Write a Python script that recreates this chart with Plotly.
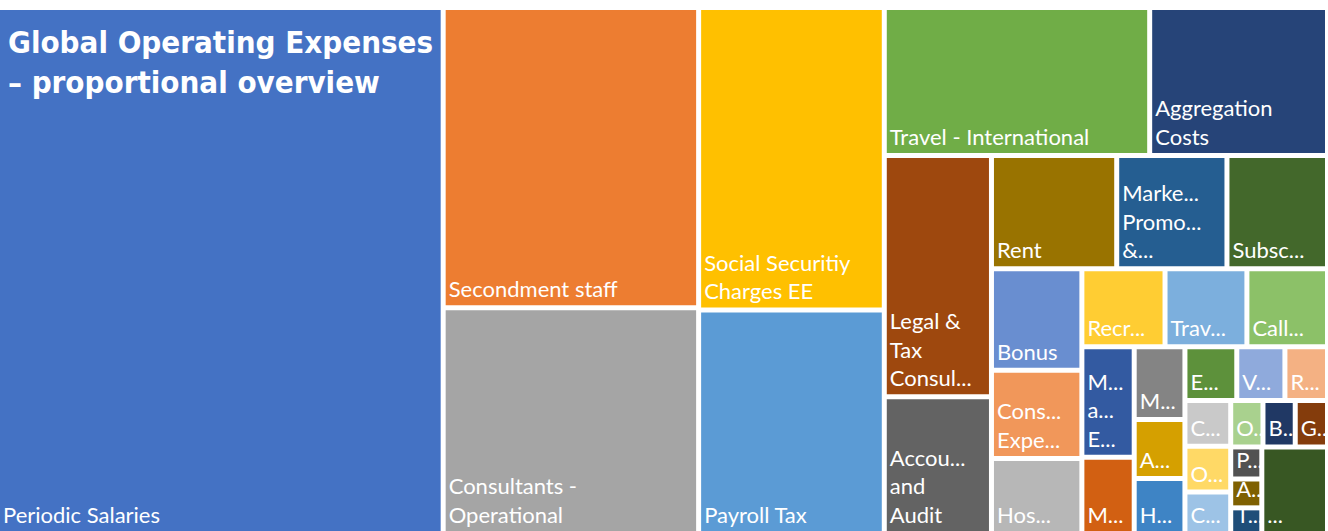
import plotly.graph_objects as go

# ---- data -------------------------------------------------------------
# Expense categories (unique ids) and the label text shown inside each tile
names = [
    "Periodic Salaries", "Secondment staff", "Consultants - Operational",
    "Social Securitiy Charges EE", "Payroll Tax", "Travel - International",
    "Aggregation Costs", "Legal & Tax Consul...", "Accounting and Audit", "Rent",
    "Marke... Promo... &...", "Subsc...", "Bonus", "Cons... Expe...", "Hos...",
    "Recr...", "Trav...", "Call...", "M... a... E...", "M... (1)", "M... (2)",
    "A... (1)", "H...", "E...", "V...", "R...", "C... (1)", "O... (1)", "C... (2)",
    "O... (2)", "B...", "G...", "P...", "A... (2)", "T...", "...",
]
display = [
    "Periodic Salaries", "Secondment staff", "Consultants -<br>Operational",
    "Social Securitiy<br>Charges EE", "Payroll Tax", "Travel - International",
    "Aggregation<br>Costs", "Legal &<br>Tax<br>Consul...", "Accou...<br>and<br>Audit", "Rent",
    "Marke...<br>Promo...<br>&...", "Subsc...", "Bonus", "Cons...<br>Expe...", "Hos...",
    "Recr...", "Trav...", "Call...", "M...<br>a...<br>E...", "M...", "M...",
    "A...", "H...", "E...", "V...", "R...", "C...", "O...", "C...",
    "O...", "B...", "G...", "P...", "A...", "T...", "...",
]
# relative size of each expense (estimated from tile areas)
values = [
    2350, 769, 578, 563, 416, 394, 264, 259, 147, 142, 125, 114, 92, 80, 68,
    65, 64, 63, 58, 40, 37, 30, 28, 28, 26, 23, 21, 21, 19, 15, 15, 15, 10, 9, 8, 57,
]
# layout grouping used by the treemap (Excel-style strips), "" = top level
groups = [
    "", "", "", "", "", "g1",
    "g1", "g2", "g2", "g3",
    "g3", "g3", "g4", "g4", "g4",
    "g5", "g5", "g5", "g6", "g6", "g7",
    "g7", "g7", "g8", "g8", "g8", "g8", "g8", "g8",
    "g8", "g8", "g8", "g8", "g8", "g8", "g8",
]
group_ids = ["g1", "g2", "g3", "g4", "g5", "g6", "g7", "g8"]
group_parents = ["", "g1", "g2", "g3", "g4", "g5", "g6", "g7"]

colors = [
    "#4472C4", "#ED7D31", "#A5A5A5", "#FFC000", "#5B9BD5", "#70AD47",
    "#264478", "#9E480E", "#636363", "#997300", "#255E91", "#43682B",
    "#698ED0", "#F1975A", "#B7B7B7", "#FFCD33", "#7CAFDD", "#8CC168",
    "#335AA1", "#D26012", "#848484", "#D5A000", "#3E84C5", "#5D913B",
    "#8FAADC", "#F4B183", "#C9C9C9", "#FFD966", "#9DC3E6", "#A9D18E",
    "#203864", "#843C0C", "#525252", "#7F6000", "#1F4E79", "#385723",
]

# ---- figure -----------------------------------------------------------
ids = names + group_ids
parents = groups + group_parents
vals = values + [0] * len(group_ids)
texts = display + [""] * len(group_ids)
cols = colors + ["white"] * len(group_ids)

fig = go.Figure(go.Treemap(
    ids=ids,
    labels=ids,
    parents=parents,
    values=vals,
    branchvalues="remainder",
    text=texts,
    textinfo="text",
    sort=False,
    tiling=dict(packing="squarify", squarifyratio=1, pad=5),
    marker=dict(colors=cols, line=dict(color="white", width=0),
                pad=dict(t=0, l=0, r=0, b=0), depthfade=False),
    textposition="bottom left",
    textfont=dict(family="Lato, Calibri, sans-serif", size=22, color="white"),
    pathbar=dict(visible=False),
    root=dict(color="white"),
    domain=dict(x=[0, 1], y=[0, 1]),
    hoverinfo="skip",
))

fig.update_layout(
    width=1328, height=531,
    margin=dict(l=0, r=3, t=10, b=0),
    paper_bgcolor="white",
    uniformtext=dict(minsize=22, mode="show"),
    annotations=[dict(
        text="<b>Global Operating Expenses<br>– proportional overview</b>",
        xref="paper", yref="paper", x=0, y=1, xanchor="left", yanchor="top",
        xshift=6, yshift=-12, align="left", showarrow=False,
        font=dict(family="DejaVu Sans Condensed, Roboto", size=31, color="white"),
    )],
)

fig.write_html(
    "out.html",
    config={"displayModeBar": False},
    post_script="document.body.style.margin='0px';document.body.style.overflow='hidden';",
)
